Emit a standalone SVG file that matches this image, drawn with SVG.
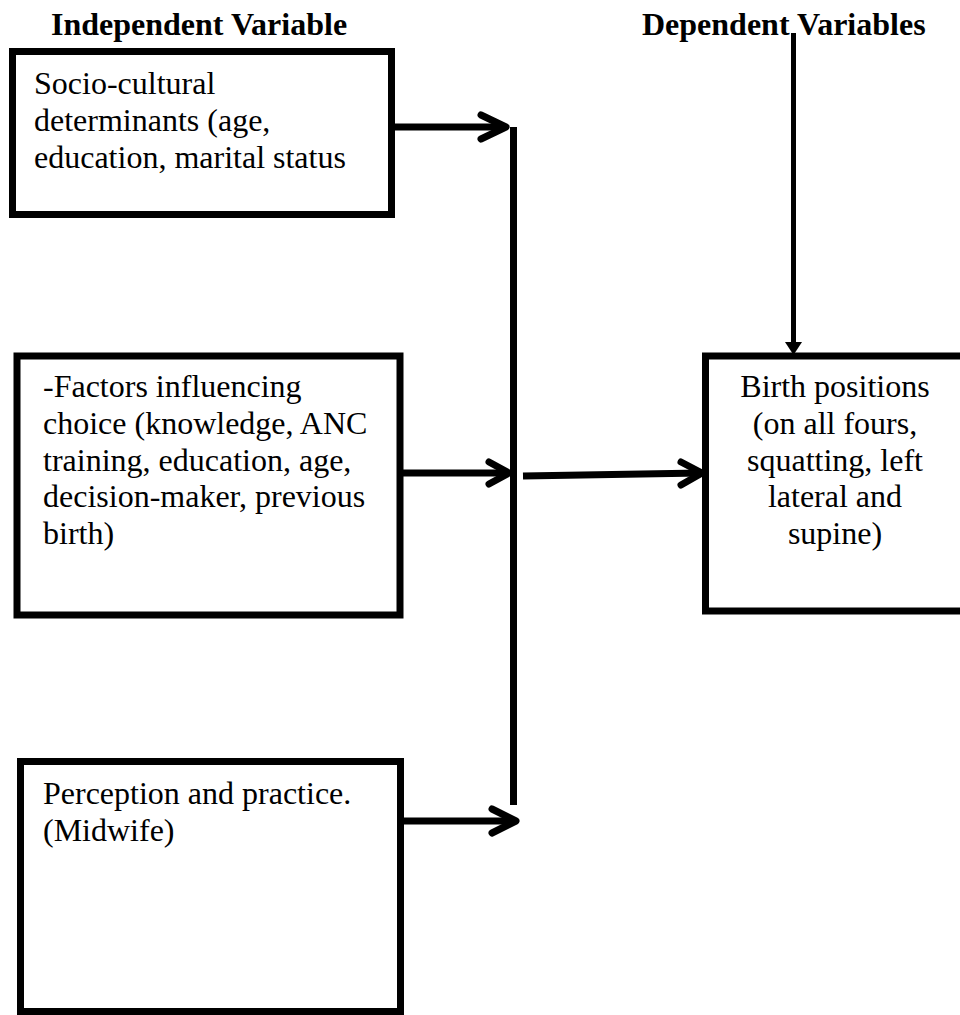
<svg xmlns="http://www.w3.org/2000/svg" width="960" height="1015" viewBox="0 0 960 1015">
<style>
  .box { fill: #ffffff; stroke: #000000; stroke-width: 7; }
  .t { font-family: "Liberation Serif", "Times New Roman", serif; font-size: 32px; fill: #000000; }
  .h { font-family: "Liberation Serif", "Times New Roman", serif; font-size: 32px; font-weight: bold; fill: #000000; }
  .ln { fill: none; stroke: #000000; stroke-width: 7; stroke-linecap: butt; }
  .hd { fill: none; stroke: #000000; stroke-width: 7; stroke-linecap: round; stroke-linejoin: round; }
</style>
<rect width="960" height="1015" fill="#ffffff"/>

<g id="headings">
  <text class="h" x="51" y="35">Independent Variable</text>
  <text class="h" x="642" y="35">Dependent Variables</text>
</g>

<g id="node-sociocultural">
  <rect class="box" x="12.5" y="51.5" width="379" height="163"/>
  <text class="t" x="34" y="94">Socio-cultural</text>
  <text class="t" x="34" y="131">determinants (age,</text>
  <text class="t" x="34" y="168">education, marital status</text>
</g>

<g id="node-factors">
  <rect class="box" x="17" y="356" width="383" height="259"/>
  <text class="t" x="43" y="397">-Factors influencing</text>
  <text class="t" x="43" y="434">choice (knowledge, ANC</text>
  <text class="t" x="43" y="470.5">training, education, age,</text>
  <text class="t" x="43" y="507">decision-maker, previous</text>
  <text class="t" x="43" y="544">birth)</text>
</g>

<g id="node-perception">
  <rect class="box" x="20.5" y="761.5" width="380" height="250"/>
  <text class="t" x="43" y="804">Perception and practice.</text>
  <text class="t" x="43" y="841">(Midwife)</text>
</g>

<g id="node-birth">
  <rect class="box" x="705.5" y="356" width="262" height="255"/>
  <text class="t" x="835" y="397" text-anchor="middle">Birth positions</text>
  <text class="t" x="835" y="434" text-anchor="middle">(on all fours,</text>
  <text class="t" x="835" y="470.5" text-anchor="middle">squatting, left</text>
  <text class="t" x="835" y="507" text-anchor="middle">lateral and</text>
  <text class="t" x="835" y="544" text-anchor="middle">supine)</text>
</g>

<g id="connectors">
  <line class="ln" x1="513.5" y1="127" x2="513.5" y2="805"/>
  <line class="ln" x1="394" y1="127" x2="505" y2="127"/>
  <polyline class="hd" points="481,115 506,127 481,139"/>
  <line class="ln" x1="403" y1="473" x2="508" y2="473"/>
  <polyline class="hd" points="489,462 509,473 489,484"/>
  <line class="ln" x1="523" y1="476" x2="701" y2="473"/>
  <polyline class="hd" points="681,462 702,473 681,485"/>
  <line class="ln" x1="403" y1="821" x2="515" y2="821"/>
  <polyline class="hd" points="492,809 516,821 492,833"/>
  <line x1="793.5" y1="33" x2="793.5" y2="343" stroke="#000000" stroke-width="5"/>
  <polygon points="785,342 802,342 793.5,355" fill="#000000"/>
</g>
</svg>
